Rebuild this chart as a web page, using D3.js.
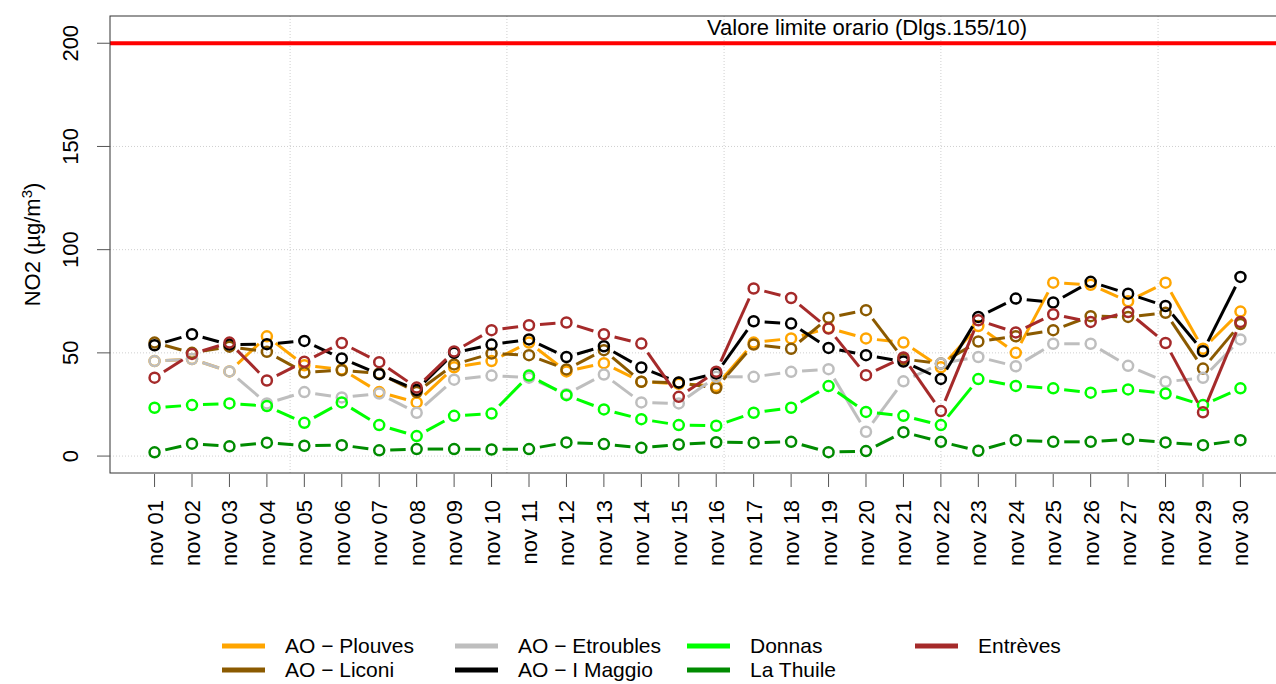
<!DOCTYPE html>
<html>
<head>
<meta charset="utf-8">
<script src="https://d3js.org/d3.v7.min.js"></script>
<style>
  body { margin: 0; background: #fff; }
  svg { font-family: "Liberation Sans", Arial, sans-serif; }
  .grid line { stroke: #cfcfcf; stroke-width: 1px; stroke-dasharray: 1 2; }
</style>
</head>
<body>
<div id="chart"></div>
<script>
// days on the x axis
var days = ["nov 01","nov 02","nov 03","nov 04","nov 05","nov 06","nov 07","nov 08","nov 09","nov 10",
            "nov 11","nov 12","nov 13","nov 14","nov 15","nov 16","nov 17","nov 18","nov 19","nov 20",
            "nov 21","nov 22","nov 23","nov 24","nov 25","nov 26","nov 27","nov 28","nov 29","nov 30"];

// NO2 daily max values per station (ug/m3)
var plouves   = [46, 47, 41, 58, 44, 42, 31, 26, 43, 46, 55, 41, 45, 36, 35, 34, 55, 57, 62, 57, 55, 43, 63, 50, 84, 83, 75, 84, 52, 70];
var liconi    = [55, 50, 53, 50.5, 40.5, 41.6, 40, 31, 44.4, 49.7, 48.9, 42, 51.3, 36, 35.5, 33, 54, 52, 67, 70.7, 47, 44.8, 55.5, 58, 61, 67.8, 67.4, 69.4, 42.4, 64];
var etroubles = [46, 47, 41, 25.5, 31, 28.4, 30.3, 21, 37, 39, 38, 30, 39.5, 26, 25.5, 38.4, 38.4, 40.8, 42.1, 11.8, 36.2, 44.9, 48, 43.5, 54.4, 54.4, 43.7, 36, 37.9, 56.5];
var maggio    = [53.7, 59, 54, 54.2, 55.8, 47.3, 39.7, 32, 50, 54, 56.5, 48, 53.2, 42.9, 35.7, 40, 65.3, 64.2, 52.4, 48.9, 45.8, 37.4, 67.4, 76.3, 74.4, 84.4, 78.7, 72.7, 50.8, 86.8];
var donnas    = [23.4, 24.7, 25.5, 24.2, 16.1, 26, 15, 9.7, 19.5, 20.6, 39, 29.5, 22.6, 17.9, 15, 14.7, 21, 23.4, 33.9, 21.4, 19.5, 15, 37.3, 34, 32.8, 30.7, 32.3, 30.3, 24.7, 32.8];
var laThuile  = [1.8, 6, 4.7, 6.5, 5, 5.3, 2.8, 3.4, 3.4, 3.2, 3.4, 6.6, 5.8, 4, 5.6, 6.7, 6.5, 6.9, 1.9, 2.4, 11.6, 6.9, 2.6, 7.7, 6.9, 6.9, 8.1, 6.6, 5.3, 7.7];
var entreves  = [38, 49.5, 55, 36.6, 45.7, 54.8, 45.5, 33.2, 50.7, 61, 63.4, 64.7, 59, 54.5, 28.7, 40.9, 81.2, 76.6, 61.8, 39.2, 47.8, 21.8, 65.8, 59.9, 68.7, 65, 69.8, 54.8, 21.2, 65];

var stations = ["AO \u2212 Plouves", "AO \u2212 Liconi", "AO \u2212 Etroubles", "AO \u2212 I Maggio", "Donnas", "La Thuile", "Entrèves"];
var colors   = ["#FFA500", "#8B5A00", "#BEBEBE", "#000000", "#00FF00", "#008B00", "#A52A2A"];
var values   = [plouves, liconi, etroubles, maggio, donnas, laThuile, entreves];

var yTicks = [0, 50, 100, 150, 200];
var xGrid = [4.62, 10.41, 16.21, 22.0, 27.8];
var limitValue = 200;
var limitLabel = "Valore limite orario (Dlgs.155/10)";

var width = 1276, height = 684;
var margin = {top: 16, right: -9, bottom: 211, left: 110};

var svg = d3.select("#chart").append("svg")
  .attr("width", width)
  .attr("height", height);

var x = d3.scaleLinear().domain([-0.19, 31.19]).range([margin.left, width - margin.right]);
var y = d3.scaleLinear().domain([-8.2, 213.2]).range([height - margin.bottom, margin.top]);

// grid
var grid = svg.append("g").attr("class", "grid");
grid.selectAll(".gx").data(xGrid).enter().append("line")
  .attr("x1", d => x(d)).attr("x2", d => x(d))
  .attr("y1", y.range()[0]).attr("y2", y.range()[1]);
grid.selectAll(".gy").data(yTicks).enter().append("line")
  .attr("x1", x.range()[0]).attr("x2", x.range()[1])
  .attr("y1", d => y(d)).attr("y2", d => y(d));

// limit line
svg.append("line")
  .attr("x1", x.range()[0]).attr("x2", x.range()[1])
  .attr("y1", y(limitValue)).attr("y2", y(limitValue))
  .attr("stroke", "#FF0000").attr("stroke-width", 4);

svg.append("text")
  .attr("x", 867).attr("y", y(limitValue) - 8)
  .attr("text-anchor", "middle")
  .style("font-size", "22px")
  .text(limitLabel);

// series, drawn like R type="b": lines with gaps around points
var gap = 11;
values.forEach(function(vals, k) {
  var pts = vals.map((v, i) => [x(i + 1), y(v)]);
  var segs = [];
  for (var i = 0; i < pts.length - 1; i++) {
    var a = pts[i], b = pts[i + 1];
    var dx = b[0] - a[0], dy = b[1] - a[1];
    var len = Math.sqrt(dx * dx + dy * dy);
    if (len > 2 * gap) {
      var ux = dx / len, uy = dy / len;
      segs.push([a[0] + ux * gap, a[1] + uy * gap, b[0] - ux * gap, b[1] - uy * gap]);
    }
  }
  var g = svg.append("g");
  g.selectAll("line").data(segs).enter().append("line")
    .attr("x1", d => d[0]).attr("y1", d => d[1])
    .attr("x2", d => d[2]).attr("y2", d => d[3])
    .attr("stroke", colors[k]).attr("stroke-width", 3);
  g.selectAll("circle").data(pts).enter().append("circle")
    .attr("cx", d => d[0]).attr("cy", d => d[1])
    .attr("r", 5)
    .attr("fill", "none")
    .attr("stroke", colors[k]).attr("stroke-width", 2.5);
});

// box
svg.append("rect")
  .attr("x", x.range()[0]).attr("y", y.range()[1])
  .attr("width", x.range()[1] - x.range()[0])
  .attr("height", y.range()[0] - y.range()[1])
  .attr("fill", "none").attr("stroke", "#333").attr("stroke-width", 1);

// y axis
var yAxis = svg.append("g");
yAxis.selectAll("line").data(yTicks).enter().append("line")
  .attr("x1", x.range()[0] - 13).attr("x2", x.range()[0])
  .attr("y1", d => y(d)).attr("y2", d => y(d))
  .attr("stroke", "#555");
yAxis.selectAll("text").data(yTicks).enter().append("text")
  .attr("transform", d => "translate(78," + y(d) + ") rotate(-90)")
  .attr("text-anchor", "middle")
  .style("font-size", "22px")
  .text(d => d);

var ylab = svg.append("text")
  .attr("transform", "translate(40," + ((y.range()[0] + y.range()[1]) / 2) + ") rotate(-90)")
  .attr("text-anchor", "middle")
  .style("font-size", "22px");
ylab.append("tspan").text("NO2 (\u00B5g/m");
ylab.append("tspan").attr("baseline-shift", "super").style("font-size", "15px").text("3");
ylab.append("tspan").text(")");

// x axis
var xAxis = svg.append("g");
xAxis.selectAll("line").data(days).enter().append("line")
  .attr("x1", (d, i) => x(i + 1)).attr("x2", (d, i) => x(i + 1))
  .attr("y1", 474).attr("y2", 487)
  .attr("stroke", "#555");
xAxis.selectAll("text").data(days).enter().append("text")
  .attr("transform", (d, i) => "translate(" + (x(i + 1) + 8) + ",500) rotate(-90)")
  .attr("text-anchor", "end")
  .style("font-size", "22px")
  .text(d => d);

// legend
var legCols = [222, 455, 687, 915];
var legRows = [646, 670];
var legend = svg.append("g");
stations.forEach(function(name, k) {
  var lx = legCols[Math.floor(k / 2)], ly = legRows[k % 2];
  legend.append("line")
    .attr("x1", lx).attr("x2", lx + 43)
    .attr("y1", ly).attr("y2", ly)
    .attr("stroke", colors[k]).attr("stroke-width", 5);
  legend.append("text")
    .attr("x", lx + 63).attr("y", ly)
    .attr("dy", "0.35em")
    .style("font-size", "21px")
    .text(name);
});
</script>
</body>
</html>
